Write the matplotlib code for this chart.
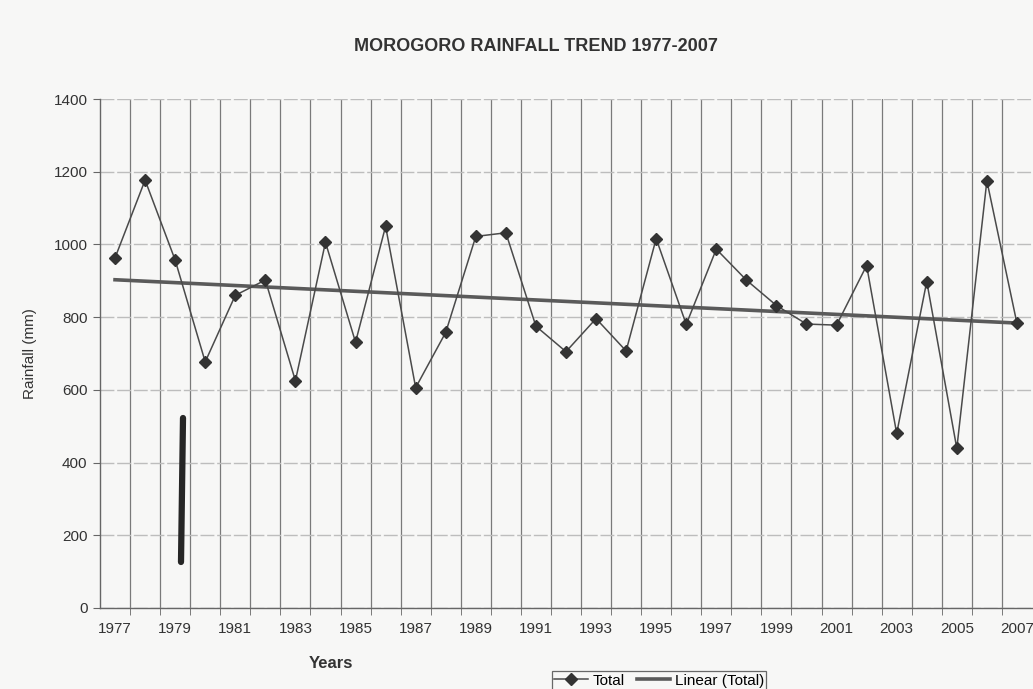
import numpy as np
import matplotlib.pyplot as plt
from matplotlib.ticker import MultipleLocator, FixedLocator

plt.rcParams['font.family'] = ['Liberation Sans', 'DejaVu Sans']

# annual rainfall totals, Morogoro
years = list(range(1977, 2008))
rainfall = [963, 1177, 957, 677, 860, 902, 625, 1006, 731, 1050,
            606, 758, 1022, 1032, 775, 705, 796, 707, 1016, 780,
            987, 902, 832, 781, 778, 942, 480, 898, 439, 1175, 783]

x = np.arange(len(years))
coef = np.polyfit(x, rainfall, 1)
trend = np.polyval(coef, x)

fig = plt.figure(figsize=(10.33, 6.89), dpi=100, facecolor='#f7f7f6')
ax = fig.add_axes([0.0968, 0.1176, 0.9022, 0.7387])
ax.set_facecolor('#f7f7f6')

ax.plot(x, rainfall, color='#4a4a4a', lw=1.1, marker='D', ms=6,
        mfc='#333333', mec='#333333', label='Total', zorder=3)
ax.plot(x, trend, color='#5a5a5a', lw=2.6, label='Linear (Total)', zorder=2)

ax.set_xlim(-0.5, len(years) - 0.5)
ax.set_ylim(0, 1400)
ax.yaxis.set_major_locator(MultipleLocator(200))

# labels on every other year, grid between categories
ax.xaxis.set_major_locator(FixedLocator(x[::2]))
ax.set_xticklabels([str(y) for y in years[::2]])
ax.xaxis.set_minor_locator(FixedLocator(np.arange(0.5, len(years) - 1, 1.0)))
ax.tick_params(axis='x', which='major', length=0, pad=10, labelsize=11, labelcolor='#333333')
ax.tick_params(axis='x', which='minor', length=5, color='#666666', direction='out')
ax.tick_params(axis='y', length=5, color='#666666', labelsize=11, labelcolor='#333333', pad=4)

ax.grid(axis='x', which='minor', color='#7a7a7a', lw=0.9)
ax.grid(axis='y', which='major', color='#bdbdbd', lw=1.0, ls=(0, (10, 2)))
ax.set_axisbelow(True)

for side in ['top', 'right']:
    ax.spines[side].set_visible(False)
for side in ['left', 'bottom']:
    ax.spines[side].set_color('#666666')
    ax.spines[side].set_linewidth(1.0)

ax.set_ylabel('Rainfall (mm)', fontsize=11, color='#333333', labelpad=12)
ax.set_xlabel('Years', fontsize=12, fontweight='bold', color='#333333', labelpad=10)
ax.xaxis.set_label_coords(0.248, -0.095)

fig.text(0.519, 0.932, 'MOROGORO RAINFALL TREND 1977-2007', ha='center', va='center',
         fontsize=13, fontweight='bold', color='#333333')

leg = fig.legend(loc='upper center', bbox_to_anchor=(0.638, 0.0255), ncol=2,
                 fontsize=11, frameon=True, fancybox=False, handlelength=2.2,
                 columnspacing=0.8, handletextpad=0.3, borderpad=0.15,
                 borderaxespad=0)
leg.get_frame().set_edgecolor('#444444')
leg.get_frame().set_facecolor('#f7f7f6')
leg.get_frame().set_linewidth(0.9)

# pen stroke on the printed page
fig.add_artist(plt.Line2D([183 / 1033, 181 / 1033], [1 - 418 / 689, 1 - 562 / 689],
                          color='#262626', lw=4.5, solid_capstyle='round'))

fig.savefig('out.png', dpi=100, facecolor=fig.get_facecolor())
